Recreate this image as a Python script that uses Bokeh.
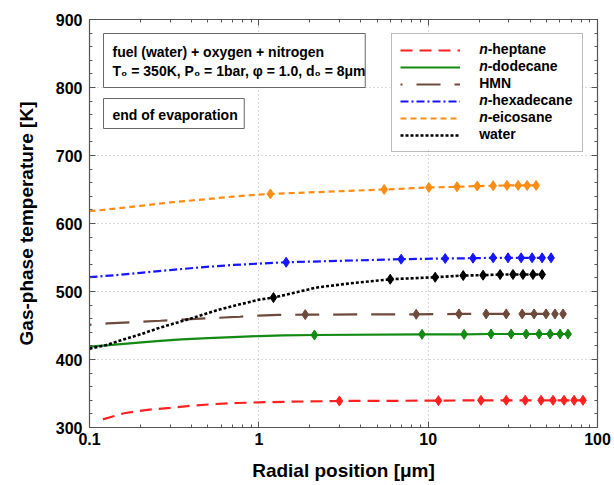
from bokeh.plotting import figure
from bokeh.models import (FixedTicker, SingleIntervalTicker, LinearAxis, LogAxis,
                          NumeralTickFormatter, Legend, LegendItem, Label,
                          BoxAnnotation, Range1d, CustomJSTickFormatter)
from bokeh.embed import file_html
from bokeh.resources import INLINE

FONT = "Liberation Sans"

# ---------------- data ----------------
heptane_x = [0.12, 0.16, 0.22, 0.30, 0.40, 0.55, 0.75, 1.0, 1.6,
             2.99, 11.5, 20.5, 28.9, 37.4, 46.4, 54.6, 63.4, 72.7, 82.1]
heptane_y = [312, 321, 326, 329, 332, 334.5, 336, 337, 338,
             339, 339.5, 340, 340, 340, 340, 340, 340, 340, 340]
heptane_mx = [2.99, 11.5, 20.5, 28.9, 37.4, 46.4, 54.6, 63.4, 72.7, 82.1]
heptane_my = [339, 339.5, 340, 340, 340, 340, 340, 340, 340, 340]

dodecane_x = [0.1, 0.13, 0.18, 0.25, 0.35, 0.5, 0.7, 1.0, 1.4,
              2.13, 9.2, 16.3, 23.5, 30.9, 37.9, 45.2, 52.5, 60.1, 67.0]
dodecane_y = [419, 421, 424, 427, 429.5, 431.5, 433, 434.5, 435.5,
              436, 437, 437, 437.5, 437.5, 437.5, 437.5, 437.5, 437.5, 437.5]
dodecane_mx = [2.13, 9.2, 16.3, 23.5, 30.9, 37.9, 45.2, 52.5, 60.1, 67.0]
dodecane_my = [436, 437, 437, 437.5, 437.5, 437.5, 437.5, 437.5, 437.5, 437.5]

hmn_x = [0.1, 0.128, 0.18, 0.262, 0.45, 0.78, 1.0, 1.3,
         1.88, 8.5, 15.2, 22.0, 28.9, 35.9, 42.2, 49.7, 56.1, 62.6]
hmn_y = [451, 453, 455, 457, 460, 463, 464.5, 465.5,
         466, 466.5, 467, 467, 467, 467, 467, 467, 467, 467]
hmn_mx = [1.88, 8.5, 15.2, 22.0, 28.9, 35.9, 42.2, 49.7, 56.1, 62.6]
hmn_my = [466, 466.5, 467, 467, 467, 467, 467, 467, 467, 467]

hexadecane_x = [0.1, 0.15, 0.2, 0.3, 0.45, 0.7, 1.0,
                1.45, 6.93, 12.6, 18.4, 24.2, 29.6, 35.4, 41.1, 47.1, 53.2]
hexadecane_y = [521, 524.5, 527.5, 531.5, 535.5, 539, 541,
                543, 547.5, 548.5, 549, 549.5, 549.5, 549.5, 549.5, 549.5, 549.5]
hexadecane_mx = [1.45, 6.93, 12.6, 18.4, 24.2, 29.6, 35.4, 41.1, 47.1, 53.2]
hexadecane_my = [543, 547.5, 548.5, 549, 549.5, 549.5, 549.5, 549.5, 549.5, 549.5]

eicosane_x = [0.1, 0.15, 0.2, 0.3, 0.5, 0.7, 1.0,
              1.17, 5.5, 10.1, 14.8, 19.5, 24.2, 29.2, 34.0, 38.4, 43.4]
eicosane_y = [618, 622.5, 626, 631, 636, 639.5, 642.5,
              643.5, 650, 653, 654, 655, 655.5, 656, 656, 656, 656]
eicosane_mx = [1.17, 5.5, 10.1, 14.8, 19.5, 24.2, 29.2, 34.0, 38.4, 43.4]
eicosane_my = [643.5, 650, 653, 654, 655, 655.5, 656, 656, 656, 656]

water_x = [0.1, 0.125, 0.152, 0.2, 0.262, 0.394, 0.593, 0.8, 1.0,
           1.22, 2.21, 3.47, 5.97, 11.0, 16.1, 21.1, 26.6, 31.7, 36.3, 41.6, 47.1]
water_y = [416, 421, 428, 437, 447, 460, 474, 482, 488,
           491, 506, 512, 518, 521, 523.5, 524, 525, 525, 525, 525, 525]
water_mx = [1.22, 5.97, 11.0, 16.1, 21.1, 26.6, 31.7, 36.3, 41.6, 47.1]
water_my = [491, 518, 521, 523.5, 524, 525, 525, 525, 525, 525]

legend_names = ["n-heptane", "n-dodecane", "HMN", "n-hexadecane", "n-eicosane", "water"]
x_ticks = [0.1, 1, 10, 100]
x_minor = [m * d for d in (0.1, 1, 10) for m in range(2, 10)]

# ---------------- figure ----------------
p = figure(x_axis_type="log", x_range=Range1d(0.1, 100), y_range=Range1d(300, 900),
           frame_width=508, frame_height=408,
           min_border_left=89, min_border_right=17, min_border_top=19, min_border_bottom=58,
           output_backend="svg", toolbar_location=None)
p.background_fill_color = "white"
p.border_fill_color = "white"
p.outline_line_color = "#555555"
p.outline_line_width = 1.2

xt = FixedTicker(ticks=x_ticks, minor_ticks=x_minor)
yt = SingleIntervalTicker(interval=100, num_minor_ticks=5)

def style_axis(ax, labels=True):
    ax.axis_line_color = "#555555"
    ax.major_tick_in = 6
    ax.major_tick_out = 0
    ax.minor_tick_in = 3
    ax.minor_tick_out = 0
    ax.major_tick_line_color = "#555555"
    ax.minor_tick_line_color = "#555555"
    if labels:
        ax.major_label_text_font = FONT
        ax.major_label_text_font_style = "bold"
        ax.major_label_text_font_size = "16px"
        ax.major_label_text_color = "black"
        ax.axis_label_text_font = FONT
        ax.axis_label_text_font_style = "bold"
        ax.axis_label_text_font_size = "19px"
        ax.axis_label_text_color = "black"
    else:
        ax.formatter = CustomJSTickFormatter(code="return '';")
        ax.major_label_standoff = 0

xa = p.xaxis[0]
xa.ticker = xt
xa.formatter = NumeralTickFormatter(format="0.[0]")
xa.axis_label = "Radial position [μm]"
style_axis(xa)
xa.major_label_standoff = 5
xa.axis_label_standoff = 12

ya = p.yaxis[0]
ya.ticker = yt
ya.axis_label = "Gas-phase temperature [K]"
style_axis(ya)
ya.major_label_standoff = 7
ya.axis_label_standoff = 16

ra = LinearAxis(ticker=yt)
style_axis(ra, labels=False)
p.add_layout(ra, "right")
ta = LogAxis(ticker=xt)
style_axis(ta, labels=False)
p.add_layout(ta, "above")

p.xgrid.ticker = xt
p.ygrid.ticker = yt
for g in (p.xgrid[0], p.ygrid[0]):
    g.grid_line_color = "#b5b5b5"
    g.grid_line_dash = "1 3"
    g.grid_line_width = 1

# white backdrop behind the (transparent) legend so grid lines are hidden
p.add_layout(BoxAnnotation(left=5.97, right=81.0, bottom=710.3, top=879.4,
                           fill_color="white", fill_alpha=1.0, line_alpha=0,
                           level="underlay"))

# ---------------- series ----------------
series = [
    (heptane_x, heptane_y, heptane_mx, heptane_my, "#ff2020", "12 7", 0, 2.2),
    (dodecane_x, dodecane_y, dodecane_mx, dodecane_my, "#138a13", "solid", 0, 2.2),
    (hmn_x, hmn_y, hmn_mx, hmn_my, "#6e4a3c", "24 14", 22, 2.2),
    (hexadecane_x, hexadecane_y, hexadecane_mx, hexadecane_my, "#1515ff", "8 3 2 3", 0, 2.2),
    (eicosane_x, eicosane_y, eicosane_mx, eicosane_my, "#ff8c14", "6 4", 0, 2.2),
    (water_x, water_y, water_mx, water_my, "#000000", "3 2", 0, 2.6),
]

items = []
for (lx, ly, mx, my, col, dash, off, lw) in series:
    r = p.line(lx, ly, line_color=col, line_width=lw, line_dash=dash,
               line_dash_offset=off)
    p.scatter(mx, my, marker="diamond", size=10, fill_color=col, line_color=col)
    items.append(LegendItem(label=" ", renderers=[r]))

legend = Legend(items=items, location="top_right", margin=14, padding=8, spacing=1,
                glyph_width=60, glyph_height=16, label_height=16, label_width=104,
                label_standoff=10, border_line_color="#777777", border_line_width=1,
                background_fill_alpha=0.0,
                label_text_font_size="10px")
p.add_layout(legend)

# legend texts (italic "n" prefix)
legend_text_y = [856, 831, 806, 781, 756, 731]
for name, yy in zip(legend_names, legend_text_y):
    if name.startswith("n-"):
        p.add_layout(Label(x=20.0, y=yy, text="n", text_font=FONT,
                           text_font_style="bold italic", text_font_size="14px",
                           text_baseline="middle", text_color="black", level="overlay"))
        p.add_layout(Label(x=20.0, y=yy, x_offset=8.5, text=name[1:], text_font=FONT,
                           text_font_style="bold", text_font_size="14px",
                           text_baseline="middle", text_color="black", level="overlay"))
    else:
        p.add_layout(Label(x=20.0, y=yy, text=name, text_font=FONT,
                           text_font_style="bold", text_font_size="14px",
                           text_baseline="middle", text_color="black", level="overlay"))

# annotation boxes
p.add_layout(BoxAnnotation(left=0.121, right=4.25, bottom=800, top=879.4,
                           fill_color="white", fill_alpha=1.0,
                           line_color="#666666", line_width=1, line_alpha=1.0))
p.add_layout(BoxAnnotation(left=0.121, right=0.82, bottom=739.7, top=783.8,
                           fill_color="white", fill_alpha=1.0,
                           line_color="#666666", line_width=1, line_alpha=1.0))
for txt, yy in [("fuel (water) + oxygen + nitrogen", 852),
                ("T₀ = 350K, P₀ = 1bar, φ = 1.0, d₀ = 8μm", 825),
                ("end of evaporation", 759)]:
    p.add_layout(Label(x=0.1367, y=yy, text=txt, text_font=FONT,
                       text_font_style="bold", text_font_size="14px",
                       text_baseline="middle", text_color="black", level="overlay"))

open("out.html", "w").write(file_html(p, INLINE))
